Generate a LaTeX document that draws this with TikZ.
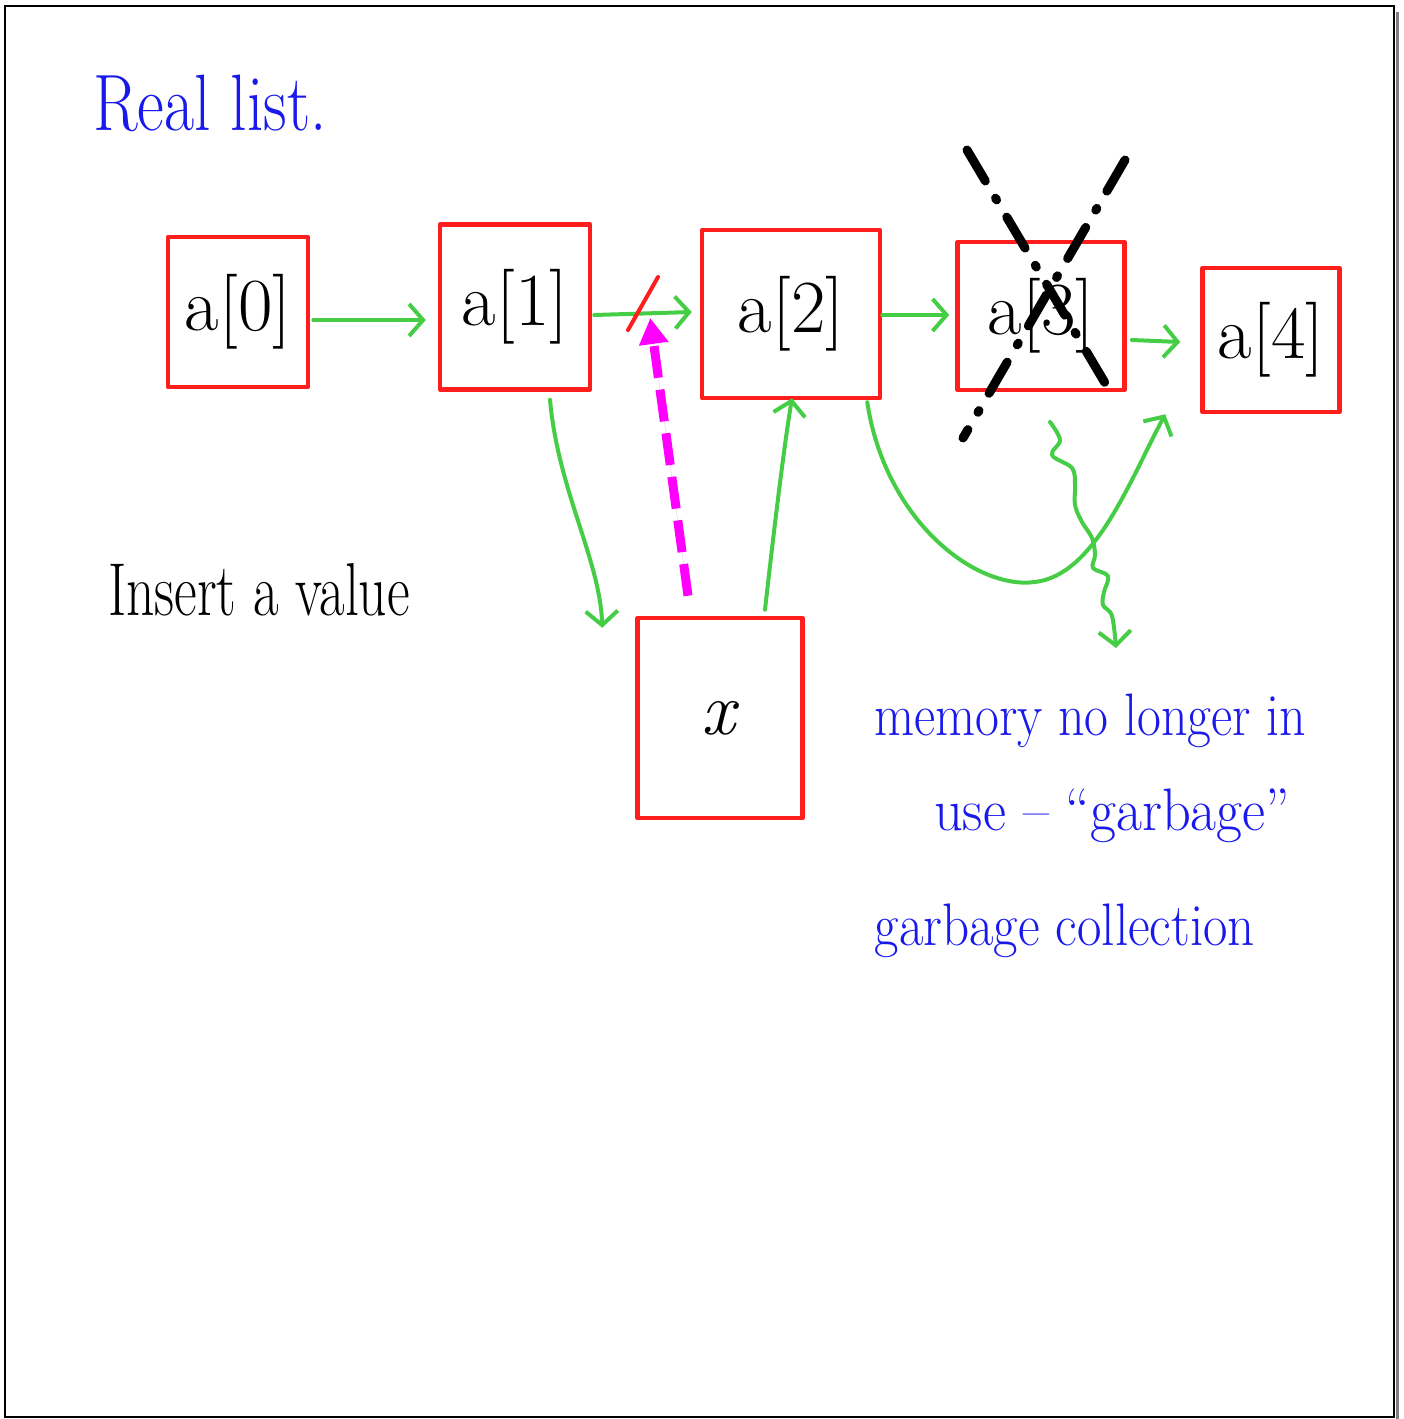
\documentclass[tikz,border=0pt]{standalone}
\usepackage{graphicx}
\usetikzlibrary{arrows.meta,calc}
\definecolor{hred}{RGB}{255,30,30}
\definecolor{hgreen}{RGB}{70,205,70}
\definecolor{hblue}{RGB}{25,25,235}
\definecolor{hmag}{RGB}{255,0,255}
\begin{document}
\begin{tikzpicture}[x=1pt,y=-1pt,
  box/.style={draw=hred,line width=4.5pt,inner sep=0pt,line join=round,font=\fontsize{75}{75}\selectfont},
  link/.style={draw=hgreen,line width=4pt,line cap=round,line join=round,-{Straight Barb[length=14pt,width=32pt]}},
  handtext/.style={inner sep=0pt,anchor=base},
  crossout/.style={line width=9pt,dash pattern=on 36pt off 20pt on 2pt off 20pt,line cap=round}]
\useasboundingbox (0,0) rectangle (1403,1419);
\draw[line width=2pt] (5,6) rectangle (1394,1417);
\draw[gray,line width=3pt] (1397,12) -- (1397,1419);

% boxes
\node[box,minimum width=140pt,minimum height=150pt] (a0) at (238,312) {a[0]};
\node[box,minimum width=150pt,minimum height=165pt] (a1) at (515,307) {a[1]};
\node[box,minimum width=178pt,minimum height=168pt] (a2) at (791,314) {a[2]};
\node[box,minimum width=167pt,minimum height=148pt] (a3) at (1041,316) {a[3]};
\node[box,minimum width=137pt,minimum height=144pt] (a4) at (1271,340) {a[4]};
\node[box,minimum width=165pt,minimum height=200pt] (xb) at (720,718) {\textit{x}};

% links
\draw[link] ($(a0.east)+(3,8)$) -- ($(a1.west)+(-12,13)$);
\draw[link] ($(a1.east)+(2,8)$) -- ($(a2.west)+(-8,-2)$);
\draw[link] ($(a2.east)+(0,1)$) -- ($(a3.west)+(-6,-1)$);
\draw[link] ($(a3.east)+(5,24)$) -- ($(a4.west)+(-20,2)$);
\draw[link] ($(a1.south)+(35,8)$) .. controls (558,490) and (600,560) .. ($(xb.north west)+(-33,12)$);
\draw[link] ($(xb.north)+(45,-6)$) .. controls (775,520) and (785,440) .. ($(a2.south)+(1,-2)$);
\coordinate (dip) at (1035,582);
\draw[link] ($(a2.south east)+(-15,2)$) .. controls (885,520) and (975,590) .. (dip)
  .. controls (1095,575) and (1130,480) .. ($(a4.south west)+(-35,0)$);
\coordinate (sq) at (1050,422);
\draw[link] plot[smooth,tension=0.6] coordinates {(sq) (1060,440) (1052,455) (1072,468) (1075,485) (1075,505) (1082,522) (1092,538) (1095,555) (1093,568) (1108,576) (1104,592) (1103,605) (1112,616) (1116,648)};

% red slash cutting old link
\draw[hred,line width=4pt,line cap=round] (628,330) -- (658,277);

% magenta new link
\draw[draw=hmag,fill=hmag,line width=9pt,dash pattern=on 32pt off 12pt,-{Triangle[length=26pt,width=28pt]}]
  ($(xb.north)+(-32,-20)$) -- ($(a1.east)+(58,11)$);

% cross out a[3]
\draw[crossout] (967,150) -- (1108,388);
\draw[crossout] (1125,160) -- (963,438);

% texts
\node[handtext,text=hblue,font=\fontsize{80}{80}\selectfont] (title) at (210,130) {\scalebox{0.82}[1]{Real list.}};
\node[handtext,font=\fontsize{75}{75}\selectfont] (ins) at (259,615) {\scalebox{0.74}[1]{Insert a value}};
\node[handtext,text=hblue,font=\fontsize{60}{60}\selectfont] (m1) at (1090,735) {\scalebox{0.865}[1]{memory no longer in}};
\node[handtext,text=hblue,font=\fontsize{60}{60}\selectfont] (m2) at (1112,830) {\scalebox{0.94}[1]{use -- ``garbage''}};
\node[handtext,text=hblue,font=\fontsize{60}{60}\selectfont] (m3) at (1065,945) {\scalebox{0.885}[1]{garbage collection}};
\end{tikzpicture}
\end{document}
